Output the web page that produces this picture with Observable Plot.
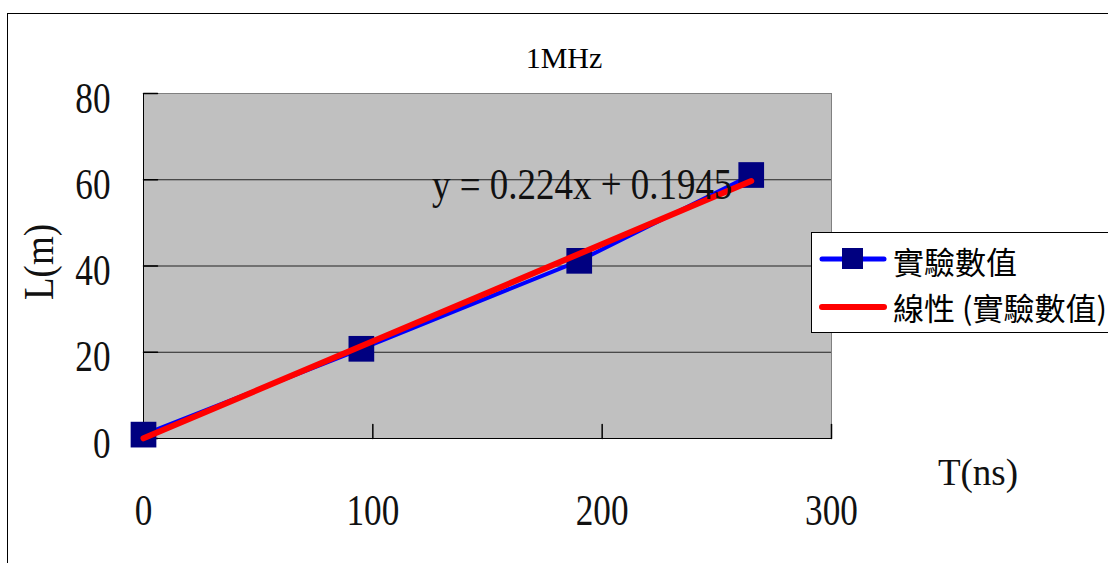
<!DOCTYPE html>
<html><head><meta charset="utf-8">
<script src="https://cdn.jsdelivr.net/npm/d3@7"></script>
<script src="https://cdn.jsdelivr.net/npm/@observablehq/plot@0.6"></script>
<style>
html,body{margin:0;padding:0;background:#fff;overflow:hidden;}
#wrap{position:relative;width:1108px;height:563px;overflow:hidden;}
#border{position:absolute;left:7px;top:13px;width:1200px;height:700px;border:1.5px solid #000;box-sizing:border-box;}
#chart{position:absolute;left:0;top:0;}
#overlay{position:absolute;left:0;top:0;}
</style>
</head><body>
<div id="wrap"><div id="border"></div><div id="chart"></div></div>
<script>
// ---- data ----
const times = [0, 95, 190, 265];          // T (ns)
const lengths = [0.9, 20.8, 41.2, 61.1];  // L (m)
const xTicks = [0, 100, 200, 300];
const yTicks = [0, 20, 40, 60, 80];
const gridValues = [20, 40, 60];
const titleText = "1MHz";
const xLabel = "T(ns)";
const yLabel = "L(m)";
const seriesName = "實驗數值";
const trendName = "線性 (實驗數值)";
const equationText = "y = 0.224x + 0.1945";

const data = times.map((t, i) => ({t, l: lengths[i]}));
const tickShape = {draw(ctx, l) { ctx.moveTo(0, 0); ctx.lineTo(0, -l); }};
const serif = "'Liberation Serif', 'Times New Roman', serif";

const plot = Plot.plot({
  width: 1108, height: 563,
  marginLeft: 143, marginRight: 277, marginTop: 93, marginBottom: 125,
  style: {background: "transparent", fontFamily: serif, color: "#000", overflow: "visible"},
  x: {domain: [0, 300], label: null},
  y: {domain: [0, 80], label: null},
  marks: [
    Plot.frame({fill: "#c0c0c0", stroke: "#808080"}),
    Plot.gridY(gridValues, {stroke: "#222", strokeOpacity: 1}),
    Plot.vector(xTicks, {x: d => d, y: 0, length: 14, rotate: 0, anchor: "start", shape: tickShape, stroke: "#000"}),
    Plot.vector(yTicks, {x: 0, y: d => d, length: 14, rotate: 90, anchor: "start", shape: tickShape, stroke: "#000"}),
    Plot.ruleX([0], {stroke: "#000"}),
    Plot.ruleY([0], {stroke: "#000"}),
    Plot.axisX(xTicks, {tickSize: 0, tickPadding: 55, fontSize: 44, label: null, fill: "#111"}),
    Plot.axisY(yTicks, {tickSize: 0, tickPadding: 33, fontSize: 44, dy: 5, label: null, fill: "#111"}),
    Plot.line(data, {x: "t", y: "l", stroke: "#0000ff", strokeWidth: 4}),
    Plot.dot(data, {x: "t", y: "l", symbol: "square", r: 14.5, fill: "#000080", stroke: "none"}),
    Plot.linearRegressionY(data, {x: "t", y: "l", stroke: "#ff0000", strokeWidth: 6, ci: 0, strokeLinecap: "round"})
  ]
});
document.getElementById("chart").appendChild(plot);

// condense serif tick labels horizontally (reference font is narrow)
function condense(root, selector, s) {
  root.querySelectorAll(selector).forEach(t => {
    const b = t.getBBox();
    const anchor = getComputedStyle(t).textAnchor;
    const cx = anchor === "end" ? b.x + b.width : anchor === "middle" ? b.x + b.width / 2 : b.x;
    t.setAttribute("transform", (t.getAttribute("transform") || "") + ` translate(${cx},0) scale(${s},1) translate(${-cx},0)`);
  });
}
condense(plot, 'g[aria-label="x-axis tick label"] text', 0.8);
condense(plot, 'g[aria-label="y-axis tick label"] text', 0.8);

// ---- annotations & legend ----
const NS = "http://www.w3.org/2000/svg";
const ov = document.createElementNS(NS, "svg");
ov.setAttribute("id", "overlay");
ov.setAttribute("width", 1108); ov.setAttribute("height", 563);
document.getElementById("wrap").appendChild(ov);
function el(name, attrs, text) {
  const e = document.createElementNS(NS, name);
  for (const k in attrs) e.setAttribute(k, attrs[k]);
  if (text != null) e.textContent = text;
  ov.appendChild(e);
  return e;
}
el("text", {x: 564, y: 68, "text-anchor": "middle", "font-family": serif, "font-size": 30}, titleText);
el("text", {x: 432, y: 199, "font-family": serif, "font-size": 44, fill: "#111",
  transform: "translate(432,0) scale(0.84,1) translate(-432,0)"}, equationText);
el("text", {x: 0, y: 0, "text-anchor": "middle", "font-family": serif, "font-size": 42, fill: "#111",
  transform: "translate(53,262) rotate(-90) scale(0.88,1)"}, yLabel);
el("text", {x: 978, y: 485, "text-anchor": "middle", "font-family": serif, "font-size": 37, fill: "#111"}, xLabel);

// legend
el("rect", {x: 811.5, y: 232.5, width: 400, height: 100, fill: "#fff", stroke: "#000", "stroke-width": 1});
el("line", {x1: 822, x2: 884, y1: 259, y2: 259, stroke: "#0000ff", "stroke-width": 5, "stroke-linecap": "round"});
el("rect", {x: 842, y: 248, width: 21, height: 21, fill: "#000080"});
el("line", {x1: 822, x2: 884, y1: 307, y2: 307, stroke: "#ff0000", "stroke-width": 6, "stroke-linecap": "round"});
const cjk = "'Noto Sans CJK TC', 'Noto Sans CJK SC', sans-serif";
el("text", {x: 893, y: 274, "font-family": cjk, "font-size": 31}, seriesName);
el("text", {x: 893, y: 320, "font-family": cjk, "font-size": 31}, trendName);
</script>
</body></html>
